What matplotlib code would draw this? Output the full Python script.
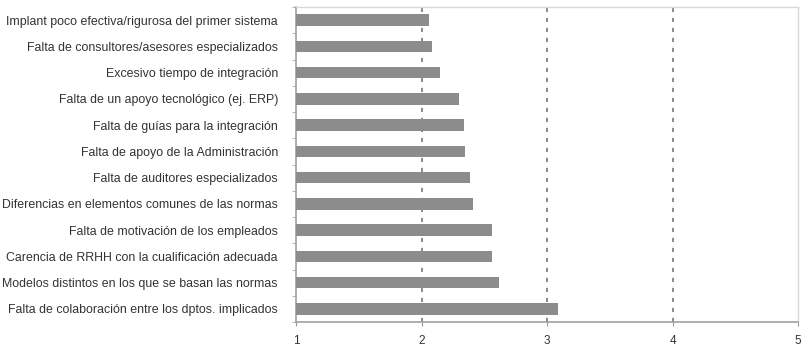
import matplotlib
matplotlib.use("Agg")
import matplotlib.pyplot as plt
import numpy as np

# obstacles to integrating management systems, mean score (1-5)
labels = [
    "Implant poco efectiva/rigurosa del primer sistema",
    "Falta de consultores/asesores especializados",
    "Excesivo tiempo de integración",
    "Falta de un apoyo tecnológico (ej. ERP)",
    "Falta de guías para la integración",
    "Falta de apoyo de la Administración",
    "Falta de auditores especializados",
    "Diferencias en elementos comunes de las normas",
    "Falta de motivación de los empleados",
    "Carencia de RRHH con la cualificación adecuada",
    "Modelos distintos en los que se basan las normas",
    "Falta de colaboración entre los dptos. implicados",
]
scores = [2.06, 2.08, 2.15, 2.30, 2.34, 2.35, 2.39, 2.41, 2.56, 2.56, 2.62, 3.09]
x_ticks = [1, 2, 3, 4, 5]

plt.rcParams["font.family"] = ["Liberation Sans", "DejaVu Sans"]

fig = plt.figure(figsize=(8.11, 3.5), dpi=100)
ax = fig.add_axes([0.365, 0.08, 0.619, 0.90])

pos = np.arange(len(labels))
ax.barh(pos, [s - 1 for s in scores], left=1, height=0.43,
        color="#8c8c8c", zorder=3)

ax.set_xlim(1, 5)
ax.set_ylim(len(labels) - 0.5, -0.5)
ax.set_xticks(x_ticks)
ax.set_xticklabels([str(t) for t in x_ticks], fontsize=8.5, color="#333333")
ax.set_yticks(pos)
ax.set_yticklabels(labels, fontsize=8.9, color="#333333")
ax.tick_params(axis="y", length=0, pad=13)
ax.tick_params(axis="x", length=3, color="#999999", pad=6)
ax.set_yticks(np.arange(-0.5, len(labels), 1), minor=True)
ax.tick_params(axis="y", which="minor", length=3, color="#aaaaaa")

for v in x_ticks[1:-1]:
    ax.axvline(v, color="#777777", linestyle=(0, (2.5, 3.5)), linewidth=1.2, zorder=1)

for side in ["left", "bottom"]:
    ax.spines[side].set_color("#a0a0a0")
    ax.spines[side].set_linewidth(1.2)
for side in ["top", "right"]:
    ax.spines[side].set_color("#d8d8d8")
    ax.spines[side].set_linewidth(1.0)

fig.savefig("out.png", dpi=100)
